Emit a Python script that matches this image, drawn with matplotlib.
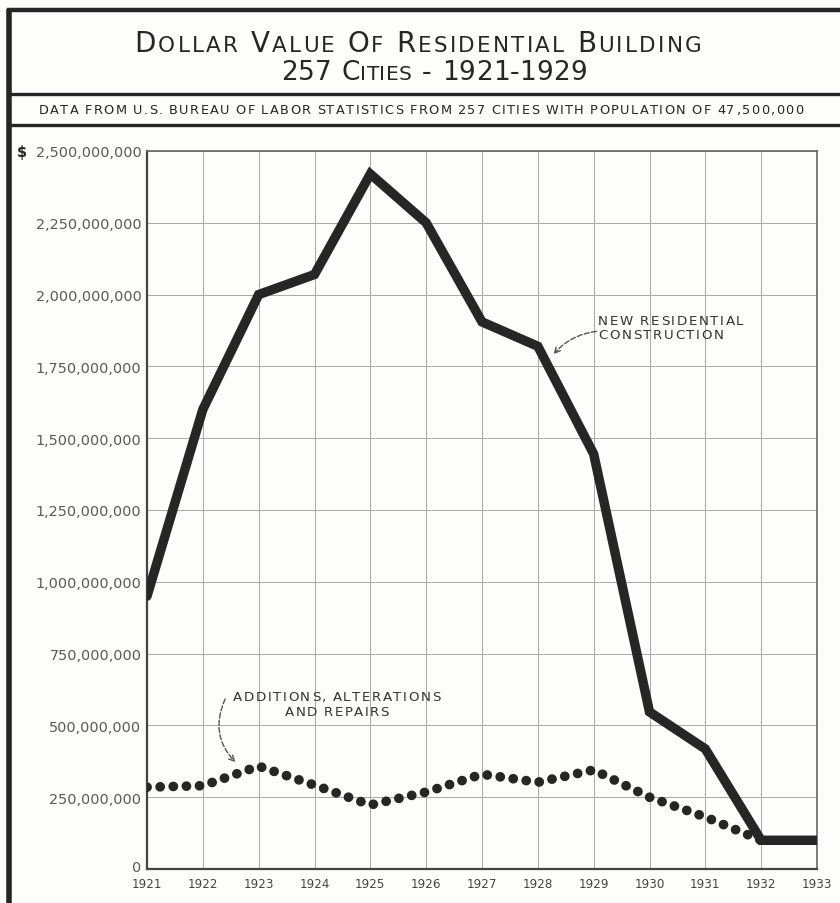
import matplotlib
matplotlib.use("Agg")
import matplotlib.pyplot as plt
from matplotlib.offsetbox import TextArea, HPacker, VPacker, AnchoredOffsetbox
from matplotlib.ticker import FuncFormatter
from matplotlib.transforms import ScaledTranslation

years = [1921, 1922, 1923, 1924, 1925, 1926, 1927, 1928, 1929, 1930, 1931, 1932, 1933]
new_residential = [950e6, 1600e6, 2000e6, 2070e6, 2420e6, 2250e6, 1905e6, 1820e6, 1445e6,
                   547e6, 418e6, 100e6, 100e6]
add_years = [1921, 1922, 1923, 1924, 1925, 1926, 1927, 1928, 1929, 1930, 1931, 1932]
additions = [285e6, 290e6, 358e6, 292e6, 223e6, 268e6, 330e6, 302e6, 345e6, 250e6, 181e6, 100e6]
y_ticks = [0, 250e6, 500e6, 750e6, 1000e6, 1250e6, 1500e6, 1750e6, 2000e6, 2250e6, 2500e6]

title1 = "DOLLAR VALUE OF RESIDENTIAL BUILDING"
title2 = "257 CITIES - 1921-1929"
subtitle = "DATA FROM U.S. BUREAU OF LABOR STATISTICS FROM 257 CITIES WITH POPULATION OF 47,500,000"
label_new = ["NEW RESIDENTIAL", "CONSTRUCTION"]
label_add = ["ADDITIONS, ALTERATIONS", "AND REPAIRS"]

W, H = 840, 904
fig = plt.figure(figsize=(W / 100, H / 100), dpi=100)
bg = "#fdfdfb"
fig.patch.set_facecolor(bg)
ink = "#262626"
FAM = "DejaVu Sans"

# frame axes
fr = fig.add_axes([0, 0, 1, 1])
fr.set_xlim(0, W)
fr.set_ylim(H, 0)
fr.axis("off")
fr.plot([9, 9], [10, H], color=ink, lw=4.0, solid_capstyle="butt")
fr.plot([7, W], [11, 11], color=ink, lw=3.2, solid_capstyle="butt")
fr.plot([9, W], [95, 95], color=ink, lw=2.4, solid_capstyle="butt")
fr.plot([9, W], [126, 126], color=ink, lw=2.4, solid_capstyle="butt")


def spaced_line(text, size, track, color=ink, small=None):
    words = []
    for w in text.split(" "):
        parts = []
        for i, ch in enumerate(w):
            sz = size
            if small is not None and ch.isalpha() and i > 0 and w[0].isalpha():
                sz = small
            parts.append(TextArea(ch, textprops=dict(fontsize=sz, color=color, family=FAM)))
        words.append(HPacker(children=parts, align="baseline", pad=0, sep=track))
    return HPacker(children=words, align="baseline", pad=0, sep=size * 0.38 + track)


def place(box, xy, transform, loc="center"):
    anch = AnchoredOffsetbox(loc=loc, child=box, pad=0, frameon=False,
                             bbox_to_anchor=xy, bbox_transform=transform, borderpad=0)
    return anch


fr.add_artist(place(spaced_line(title1, 20, 1.6, small=15.5), (418 / W, 1 - 44 / H),
                    fig.transFigure))
fr.add_artist(place(spaced_line(title2, 19, 0.2, small=14.5), (434 / W, 1 - 73 / H),
                    fig.transFigure))
fr.add_artist(place(spaced_line(subtitle, 9.3, 1.0), (421 / W, 1 - 111 / H),
                    fig.transFigure))

# main axes
left, right, top, bottom = 147, 817, 152, 870
ax = fig.add_axes([left / W, 1 - bottom / H, (right - left) / W, (bottom - top) / H])
ax.set_facecolor(bg)
ax.set_xlim(1921, 1933)
ax.set_ylim(0, 2500e6)
ax.set_xticks(years)
ax.set_yticks(y_ticks)
ax.grid(True, color="#a8a8a8", lw=0.7)
ax.set_axisbelow(True)
for s in ["left", "bottom"]:
    ax.spines[s].set_color("#444444")
    ax.spines[s].set_linewidth(1.6)
for s in ["top", "right"]:
    ax.spines[s].set_color("#666666")
    ax.spines[s].set_linewidth(1.2)
ax.tick_params(length=0)
ax.tick_params(axis="y", pad=4)
ax.tick_params(axis="x", pad=6)


def fmt(v, pos):
    return "{:,.0f}".format(v)


ax.yaxis.set_major_formatter(FuncFormatter(fmt))
for lab in ax.get_yticklabels():
    lab.set_fontsize(10.4)
    lab.set_color("#5a5a5a")
for lab in ax.get_xticklabels():
    lab.set_fontsize(8.6)
    lab.set_color("#444444")
# lift the "0" label a little so that it sits above the year labels
zero_lab = ax.get_yticklabels()[0]
zero_lab.set_transform(zero_lab.get_transform() + ScaledTranslation(0, 3 / 100, fig.dpi_scale_trans))

fr.text(22, 152, "$", ha="center", va="center", fontsize=10.5,
        fontweight="bold", color=ink)

ax.plot(years, new_residential, color=ink, lw=6.8, solid_joinstyle="miter",
        solid_capstyle="round", zorder=5)
ax.plot(add_years, additions, color=ink, lw=7.0, linestyle=(0, (0.01, 1.34)),
        dash_capstyle="round", zorder=4)

# annotation labels (letter-spaced)
new_box = VPacker(children=[spaced_line(t, 9.6, 1.2, color="#333333") for t in label_new],
                  align="left", pad=0, sep=1)
ax.add_artist(place(new_box, (1929.08, 1.885e9), ax.transData, loc="center left"))
add_box = VPacker(children=[spaced_line(t, 9.6, 1.1, color="#333333") for t in label_add],
                  align="center", pad=0, sep=1)
ax.add_artist(place(add_box, (1924.4, 0.575e9), ax.transData, loc="center"))

ax.annotate("", xy=(1928.25, 1.785e9), xytext=(1929.05, 1.872e9),
            arrowprops=dict(arrowstyle="->", color="#555555", lw=1.0, ls="--",
                            connectionstyle="arc3,rad=0.2", shrinkA=0, shrinkB=2))
ax.annotate("", xy=(1922.62, 0.365e9), xytext=(1922.4, 0.592e9),
            arrowprops=dict(arrowstyle="->", color="#555555", lw=1.0, ls="--",
                            connectionstyle="arc3,rad=0.35", shrinkA=0, shrinkB=2))

fig.savefig("out.png", dpi=100, facecolor=fig.get_facecolor())
